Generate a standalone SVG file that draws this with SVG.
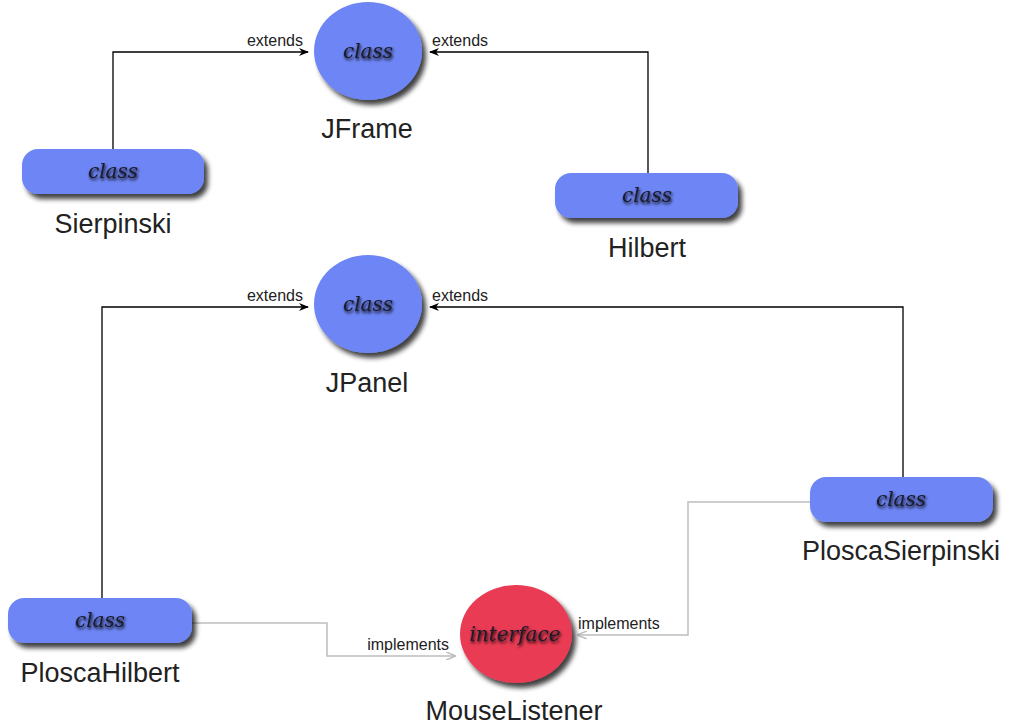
<svg xmlns="http://www.w3.org/2000/svg" width="1010" height="727" viewBox="0 0 1010 727">
  <defs>
    <filter id="drop" x="-20%" y="-20%" width="150%" height="160%">
      <feGaussianBlur in="SourceAlpha" stdDeviation="2.5"/>
      <feOffset dx="4" dy="5" result="b"/>
      <feComponentTransfer><feFuncA type="linear" slope="0.75"/></feComponentTransfer>
      <feMerge><feMergeNode/><feMergeNode in="SourceGraphic"/></feMerge>
    </filter>
    <filter id="glow" x="-20%" y="-40%" width="140%" height="200%">
      <feGaussianBlur in="SourceAlpha" stdDeviation="1.6"/>
      <feOffset dx="1" dy="2" result="s"/>
      <feMerge><feMergeNode in="s"/><feMergeNode in="SourceGraphic"/></feMerge>
    </filter>
    <marker id="arrowBlack" viewBox="0 0 10 8" refX="9" refY="4" markerWidth="10" markerHeight="8" markerUnits="userSpaceOnUse" orient="auto">
      <path d="M0,0 L10,4 L0,8 L3,4 z" fill="#000"/>
    </marker>
    <marker id="arrowGray" viewBox="0 0 10 8" refX="9" refY="4" markerWidth="10" markerHeight="8" markerUnits="userSpaceOnUse" orient="auto">
      <path d="M0,0 L10,4 L0,8" fill="none" stroke="#bdbdbd" stroke-width="1.5"/>
    </marker>
  </defs>
  <style>
    .bg { fill: #ffffff; }
    .cls { fill: #6e86f5; filter: url(#drop); }
    .ifc { fill: #e93a53; filter: url(#drop); }
    .stereo { font-family: "DejaVu Serif", "Liberation Serif", serif; font-style: italic; font-weight: normal; font-size: 20px; fill: #1a1a2a; text-anchor: middle; filter: url(#glow); }
    .name { font-family: "Liberation Sans", Arial, sans-serif; font-size: 27px; fill: #222; text-anchor: middle; }
    .ext { fill: none; stroke: #000; stroke-width: 1.3; marker-end: url(#arrowBlack); }
    .impl { fill: none; stroke: #bdbdbd; stroke-width: 1.5; marker-end: url(#arrowGray); }
    .lbl { font-family: "Liberation Sans", Arial, sans-serif; font-size: 16px; fill: #222; }
  </style>
  <rect class="bg" x="0" y="0" width="1010" height="727"/>

  <!-- connectors -->
  <g id="connectors">
    <path class="ext" d="M113,149 V52 H308"/>
    <path class="ext" d="M648,173 V52 H430"/>
    <path class="ext" d="M102,598 V307 H308"/>
    <path class="ext" d="M903,477 V307 H430"/>
    <path class="impl" d="M192,623 H327 V656 H455"/>
    <path class="impl" d="M810,502 H688 V635 H578"/>
    <text class="lbl" x="303" y="46" text-anchor="end">extends</text>
    <text class="lbl" x="432" y="46">extends</text>
    <text class="lbl" x="303" y="301" text-anchor="end">extends</text>
    <text class="lbl" x="432" y="301">extends</text>
    <text class="lbl" x="449" y="650" text-anchor="end">implements</text>
    <text class="lbl" x="578" y="629">implements</text>
  </g>

  <!-- JFrame -->
  <g id="JFrame">
    <ellipse class="cls" cx="368" cy="51" rx="54" ry="49"/>
    <text class="stereo" x="368" y="58">class</text>
    <text class="name" x="367" y="138">JFrame</text>
  </g>

  <!-- JPanel -->
  <g id="JPanel">
    <ellipse class="cls" cx="368" cy="304" rx="54" ry="49"/>
    <text class="stereo" x="368" y="311">class</text>
    <text class="name" x="367" y="392">JPanel</text>
  </g>

  <!-- Sierpinski -->
  <g id="Sierpinski">
    <rect class="cls" x="22" y="149" width="182" height="45" rx="16"/>
    <text class="stereo" x="113" y="178">class</text>
    <text class="name" x="113" y="233">Sierpinski</text>
  </g>

  <!-- Hilbert -->
  <g id="Hilbert">
    <rect class="cls" x="555" y="173" width="183" height="45" rx="16"/>
    <text class="stereo" x="647" y="202">class</text>
    <text class="name" x="647" y="257">Hilbert</text>
  </g>

  <!-- PloscaHilbert -->
  <g id="PloscaHilbert">
    <rect class="cls" x="8" y="598" width="184" height="45" rx="16"/>
    <text class="stereo" x="100" y="627">class</text>
    <text class="name" x="100" y="682">PloscaHilbert</text>
  </g>

  <!-- PloscaSierpinski -->
  <g id="PloscaSierpinski">
    <rect class="cls" x="810" y="477" width="183" height="45" rx="16"/>
    <text class="stereo" x="901" y="506">class</text>
    <text class="name" x="901" y="560">PloscaSierpinski</text>
  </g>

  <!-- MouseListener -->
  <g id="MouseListener">
    <ellipse class="ifc" cx="516" cy="634" rx="56" ry="49"/>
    <text class="stereo" x="515" y="641">interface</text>
    <text class="name" x="514" y="720">MouseListener</text>
  </g>
</svg>
